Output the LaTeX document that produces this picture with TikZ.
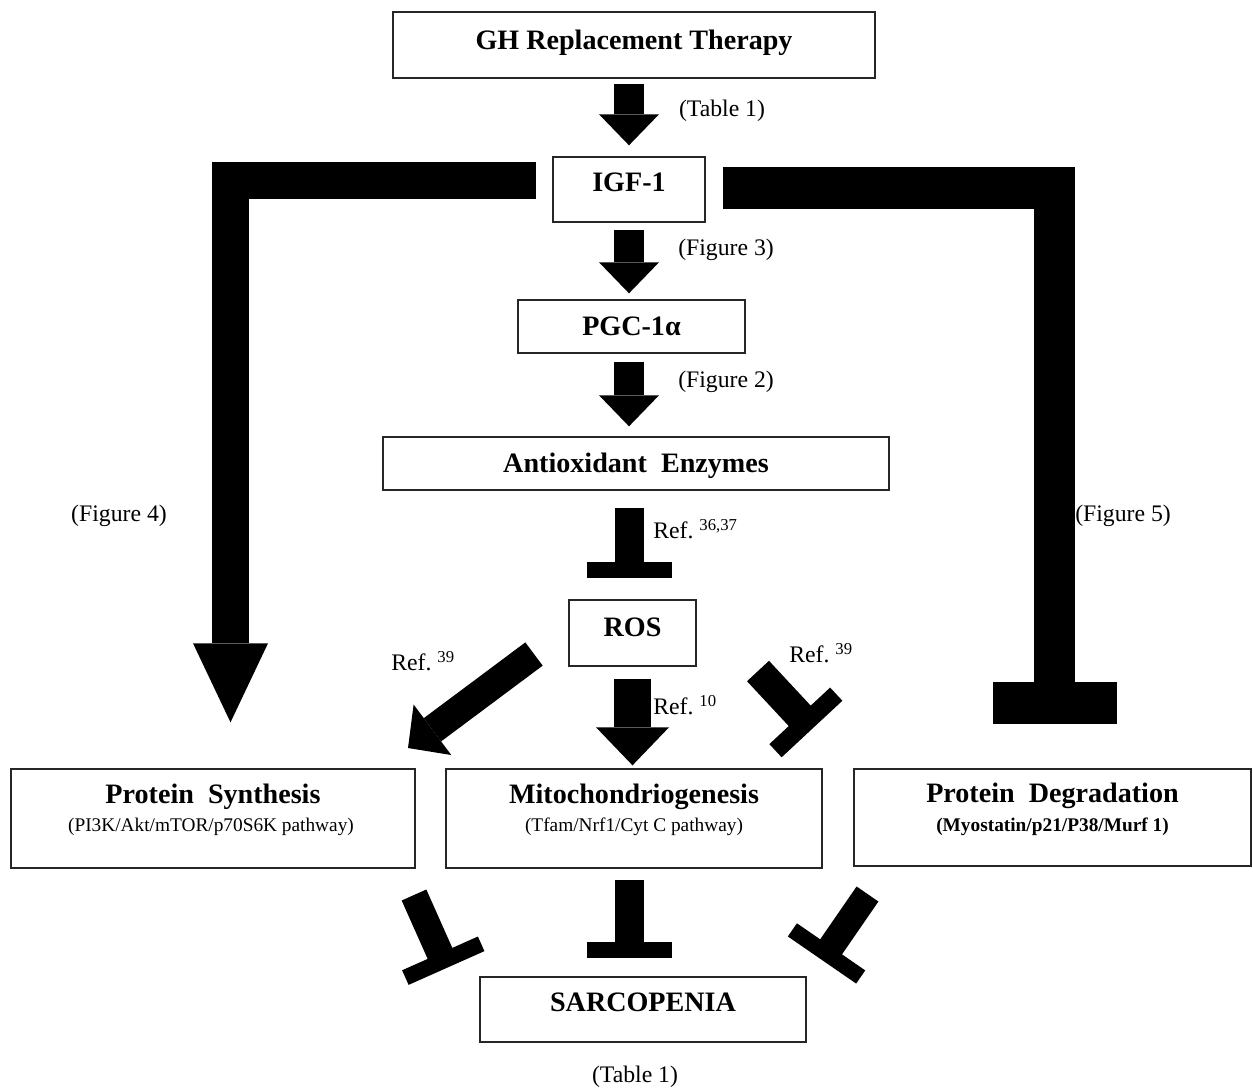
\documentclass[tikz,border=0pt]{standalone}
\usepackage{fontspec}
\setmainfont{Liberation Serif}
\usetikzlibrary{arrows.meta}

\newcommand{\refsup}[1]{\raisebox{4.5pt}{\fontsize{9.5}{11}\selectfont #1}}

\begin{document}
\begin{tikzpicture}[x=0.02cm, y=-0.02cm,
  box/.style={draw=black!85, line width=0.8pt, inner sep=0pt, font=\fontsize{16}{19}\selectfont\bfseries, text height=10.6pt},
  sub/.style={inner sep=0pt, font=\fontsize{11}{13}\selectfont},
  note/.style={inner sep=0pt, font=\fontsize{13.5}{15}\selectfont},
  arrowhd/.style 2 args={-{Triangle[width=#1, length=#2, line width=0pt]}},
  barhd/.style 2 args={-{Bar[width=#1, line width=#2]}}]
\useasboundingbox (0,0) rectangle (1253,1089);

\node[box, minimum width=9.64cm, minimum height=1.32cm, text depth=5.5pt] (gh) at (634,45) {GH Replacement Therapy};
\node[box, minimum width=3.04cm, minimum height=1.3cm, text depth=8pt] (igf) at (629,189.5) {IGF-1};
\node[box, minimum width=4.54cm, minimum height=1.06cm, text depth=0pt] (pgc) at (631.5,326.5) {PGC-1α};
\node[box, minimum width=10.12cm, minimum height=1.06cm, text depth=0pt] (ao) at (636,463.5) {Antioxidant\ \ Enzymes};
\node[box, minimum width=2.54cm, minimum height=1.32cm, text depth=7pt] (ros) at (632.5,633) {ROS};
\node[box, minimum width=8.08cm, minimum height=1.98cm, text depth=28pt] (ps) at (213,818.5) {Protein\ \ Synthesis};
\node[box, minimum width=7.52cm, minimum height=1.98cm, text depth=28pt] (mito) at (634,818.5) {Mitochondriogenesis};
\node[box, minimum width=7.94cm, minimum height=1.94cm, text depth=28pt] (pd) at (1052.5,817.5) {Protein\ \ Degradation};
\node[box, minimum width=6.52cm, minimum height=1.3cm, text depth=8pt] (sarc) at (643,1009.5) {SARCOPENIA};

\node[sub] (pssub) at (211,827) {(PI3K/Akt/mTOR/p70S6K pathway)};
\node[sub] (mitosub) at (634,827) {(Tfam/Nrf1/Cyt C pathway)};
\node[sub, font=\fontsize{11}{13}\selectfont\bfseries] (pdsub) at (1052.5,827) {(Myostatin/p21/P38/Murf 1)};

\node[note] (t1) at (722,111) {(Table 1)};
\node[note] (f3) at (726,250) {(Figure 3)};
\node[note] (f2) at (726,382) {(Figure 2)};
\node[note] (f4) at (119,516) {(Figure 4)};
\node[note] (f5) at (1123,516) {(Figure 5)};
\node[note] (t1b) at (635,1077) {(Table 1)};
\node[note, anchor=base west] (r3637) at (653,538) {Ref.\ \refsup{36,37}};
\node[note, anchor=base west] (r39l) at (391,670) {Ref.\ \refsup{39}};
\node[note, anchor=base west] (r39r) at (789,662) {Ref.\ \refsup{39}};
\node[note, anchor=base west] (r10) at (653,714) {Ref.\ \refsup{10}};

\coordinate (lbend) at (230.5,180.5);
\coordinate (rbend) at (1054.5,188);
\coordinate (rosl) at (534,654);
\coordinate (rosl2) at (408,748);
\coordinate (rosr) at (758,671);
\coordinate (rosr2) at (812,729);
\coordinate (psout) at (414,895);
\coordinate (psout2) at (446.5,968);
\coordinate (pdout) at (867.5,894);
\coordinate (pdout2) at (822,960);

\path[draw, line width=0.6cm, arrowhd={1.2cm}{0.62cm}, shorten <=0.1cm, shorten >=0.22cm] (gh.south -| igf.north) -- (igf.north);
\path[draw, line width=0.6cm, arrowhd={1.2cm}{0.62cm}, shorten <=0.14cm, shorten >=0.12cm] (igf.south) -- (igf.south |- pgc.north);
\path[draw, line width=0.6cm, arrowhd={1.2cm}{0.62cm}, shorten <=0.16cm, shorten >=0.2cm] (pgc.south -| igf.south) -- (ao.north -| igf.south);
\path[draw, line width=0.58cm, barhd={1.7cm}{0.32cm}, shorten <=0.34cm, shorten >=0.42cm] (ao.south -| igf.south) -- (ros.north -| igf.south);
\path[draw, line width=0.74cm, arrowhd={1.46cm}{0.76cm}, shorten <=0.24cm, shorten >=0.06cm] (ros.south) -- (ros.south |- mito.north);
\path[draw, line width=0.58cm, barhd={1.7cm}{0.32cm}, shorten <=0.22cm, shorten >=0.36cm] (mito.south -| igf.south) -- (sarc.north -| igf.south);

\path[draw, line width=0.74cm, line join=miter, arrowhd={1.5cm}{1.58cm}, shorten <=0.32cm, shorten >=0.92cm] (igf.west |- lbend) -| (lbend |- ps.north);
\path[draw, line width=0.83cm, line join=miter, barhd={2.48cm}{0.84cm}, shorten <=0.34cm, shorten >=0.88cm] (igf.east |- rbend) -| (rbend |- pd.north);

\path[draw, line width=0.58cm, arrowhd={1.26cm}{0.61cm}] (rosl) -- (rosl2);
\path[draw, line width=0.6cm, barhd={1.66cm}{0.36cm}] (rosr) -- (rosr2);
\path[draw, line width=0.54cm, barhd={1.66cm}{0.32cm}] (psout) -- (psout2);
\path[draw, line width=0.53cm, barhd={1.66cm}{0.32cm}] (pdout) -- (pdout2);
\end{tikzpicture}
\end{document}
